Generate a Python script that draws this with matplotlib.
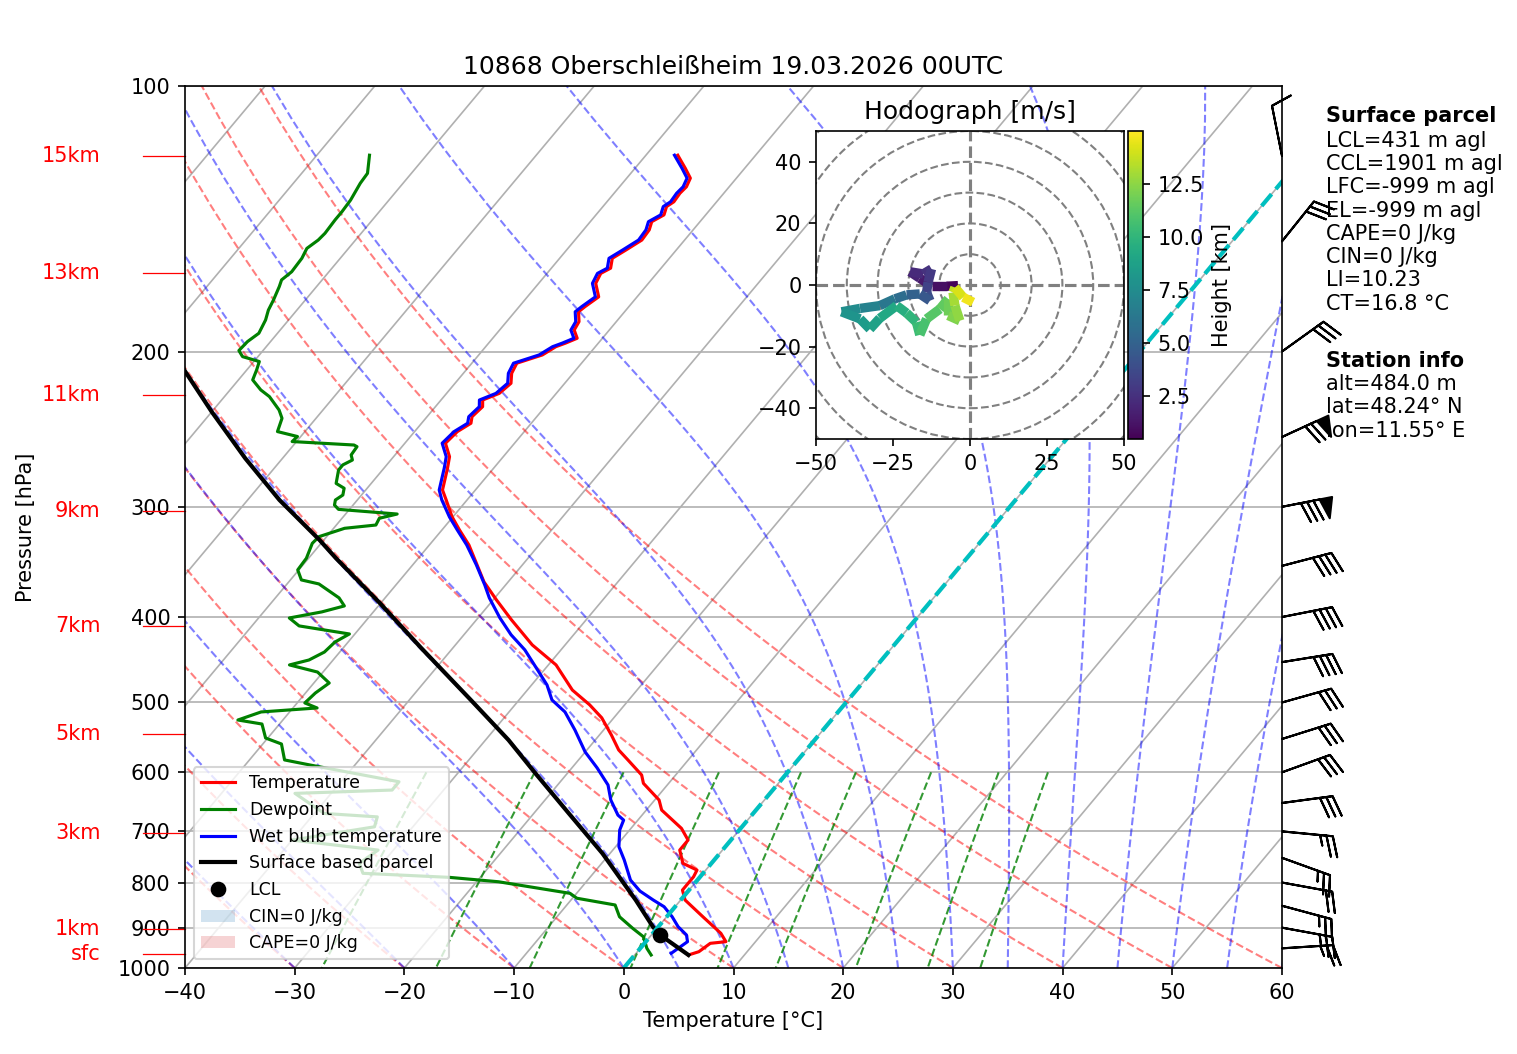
import numpy as np
import matplotlib
matplotlib.use('Agg')
import matplotlib.pyplot as plt
import matplotlib.transforms as transforms
from matplotlib.axes import Axes
from matplotlib.projections import register_projection
from matplotlib.collections import LineCollection
from matplotlib.patches import Circle, Patch
from matplotlib.ticker import MultipleLocator, ScalarFormatter, NullLocator

# Sounding (pressure in hPa, temperatures in degC)
p_temp = [966.6, 958.3, 937.6, 933.6, 913.4, 874.8, 837.4, 815.9, 788.1, 774.4,
          760.9, 735.0, 716.1, 694.5, 662.1, 645.0, 617.5, 604.2, 580.9, 566.0,
          544.4, 520.4, 503.0, 484.0, 453.3, 430.2, 403.0, 382.5, 365.0, 344.6,
          331.4, 318.7, 307.8, 294.7, 287.1, 271.3, 263.2, 254.1, 246.5, 241.2,
          237.1, 231.0, 227.0, 223.1, 217.3, 211.7, 206.2, 201.8, 197.5, 195.7,
          193.2, 189.1, 185.0, 180.3, 177.9, 173.4, 167.4, 163.1, 160.9, 156.8,
          153.5, 149.5, 145.6, 142.5, 140.0, 137.0, 135.3, 132.3, 130.1, 127.2,
          124.0, 119.8]
t_temp = [4.9, 5.6, 6.0, 7.3, 6.2, 3.3, 0.4, -0.6, -0.6, -0.8,
          -2.6, -3.9, -3.9, -5.4, -8.6, -9.6, -12.3, -13.1, -15.5, -17.1,
          -18.9, -21.1, -23.2, -25.9, -29.3, -33.0, -36.8, -39.7, -42.2, -44.7,
          -46.4, -48.4, -50.1, -51.9, -53.0, -54.2, -54.9, -56.3, -56.1, -55.5,
          -55.9, -55.7, -56.2, -55.2, -54.9, -55.6, -55.9, -54.2, -53.6, -53.0,
          -52.3, -53.2, -53.4, -54.2, -54.0, -53.5, -54.8, -55.1, -54.6, -55.2,
          -54.6, -53.9, -54.0, -54.4, -53.8, -54.2, -53.9, -54.0, -53.9, -54.2,
          -55.4, -57.1]

p_dew = [966.6, 949.9, 921.6, 901.8, 874.8, 848.3, 833.5, 822.9, 798.4, 789.3,
         781.0, 760.9, 735.0, 716.1, 691.7, 674.0, 668.0, 633.9, 628.4, 615.0,
         588.6, 580.9, 557.2, 548.6, 528.9, 523.4, 512.5, 507.2, 500.6, 487.8,
         475.2, 461.8, 453.3, 447.5, 438.3, 427.0, 418.1, 409.4, 401.0, 394.7,
         388.6, 380.5, 366.9, 363.1, 353.7, 343.1, 330.0, 324.3, 317.3, 314.6,
         309.1, 305.7, 302.0, 298.6, 294.7, 290.9, 285.8, 282.2, 272.5, 268.9,
         265.5, 262.0, 256.4, 255.3, 253.0, 249.7, 246.5, 238.1, 233.0, 225.0,
         221.1, 215.4, 209.9, 205.3, 202.7, 199.5, 194.9, 190.7, 184.2, 179.5,
         174.9, 168.8, 165.9, 162.4, 156.8, 152.8, 149.5, 146.9, 141.8, 138.8,
         134.7, 128.9, 125.6, 119.8]
t_dew = [1.5, 0.6, -0.6, -2.2, -4.3, -5.6, -9.6, -10.6, -18.0, -22.8,
         -31.0, -32.1, -31.4, -40.0, -33.5, -34.0, -39.1, -43.3, -34.7, -34.7,
         -44.1, -46.8, -48.3, -50.2, -51.6, -54.1, -52.6, -47.8, -49.3, -49.1,
         -48.6, -50.5, -53.6, -52.2, -51.4, -51.2, -50.5, -55.7, -57.2, -54.7,
         -53.1, -54.2, -57.1, -59.0, -60.1, -60.2, -60.8, -60.7, -59.0, -56.4,
         -56.6, -55.3, -61.0, -61.7, -62.0, -61.7, -62.1, -63.2, -64.0, -64.0,
         -63.5, -64.0, -64.1, -64.5, -70.4, -70.3, -72.5, -73.1, -74.0, -75.9,
         -77.2, -78.7, -79.1, -79.5, -81.4, -82.2, -82.1, -81.7, -82.1, -82.6,
         -82.9, -83.4, -83.7, -83.4, -83.5, -83.8, -83.4, -83.3, -83.4, -83.4,
         -83.5, -83.9, -84.0, -85.2]

p_wet = [962.4, 933.6, 917.5, 897.8, 874.8, 852.2, 837.4, 818.0, 794.9, 754.3,
         728.6, 697.6, 679.7, 670.9, 645.0, 620.2, 593.1, 569.0, 537.4, 512.5,
         496.7, 477.6, 459.3, 435.8, 419.0, 401.0, 380.5, 367.9, 349.1, 331.4,
         318.7, 308.1, 294.7, 287.1, 271.3, 263.2, 254.1, 246.5, 241.2, 237.1,
         231.0, 227.0, 223.1, 217.3, 211.7, 206.2, 201.8, 197.5, 195.7, 193.2,
         189.1, 185.0, 180.3, 177.9, 173.4, 167.4, 163.1, 160.9, 156.8, 153.5,
         149.5, 145.6, 142.5, 140.0, 137.0, 135.3, 132.3, 130.1, 127.2, 124.0,
         119.8]
t_wet = [3.2, 3.8, 3.2, 1.8, 0.5, -1.0, -2.5, -4.4, -6.1, -8.2,
         -9.7, -10.9, -11.3, -12.2, -14.0, -15.4, -17.7, -20.0, -22.6, -24.9,
         -27.0, -28.6, -30.6, -33.3, -35.7, -38.0, -40.5, -41.9, -44.2, -46.6,
         -48.6, -50.3, -52.3, -53.3, -54.5, -55.2, -56.6, -56.4, -55.8, -56.2,
         -56.0, -56.5, -55.5, -55.2, -55.9, -56.2, -54.5, -53.9, -53.3, -52.6,
         -53.5, -53.7, -54.5, -54.3, -53.8, -55.1, -55.4, -54.9, -55.5, -54.9,
         -54.2, -54.3, -54.7, -54.1, -54.5, -54.2, -54.3, -54.2, -54.5, -55.7,
         -57.4]

p_parcel = [966.6, 917.5, 897.8, 837.4, 741.3, 668.0, 601.7, 551.5, 496.7, 433.6,
            385.6, 343.1, 327.1, 294.7, 264.3, 234.1, 209.9]
t_parcel = [4.9, 0.8, -0.5, -4.1, -10.7, -16.8, -22.9, -27.9, -34.4, -42.9,
            -50.1, -57.5, -60.4, -67.1, -73.4, -80.0, -85.7]
lcl_p, lcl_t = 917.5, 0.8

# wind barbs (kt) at the right edge
barb_p = [120, 150, 200, 250, 300, 350, 400, 450, 500, 550, 600, 650, 700, 750,
          800, 850, 900, 950]
barb_u = [2.0, -18.8, -24.4, -63.6, -78.5, -38.7, -39.2, -39.5, -28.9, -28.6,
          -28.2, -29.7, -24.9, -23.5, -19.7, -24.1, -24.6, -25.0]
barb_v = [-10.0, -23.4, -17.5, -29.3, -15.4, -10.1, -7.7, -6.4, -8.1, -9.0,
          -10.2, -4.0, 2.4, 8.5, 3.6, 6.5, 4.5, -1.6]

# hodograph (m/s) and height (km)
hodo_u = [-3.9, -7.6, -12.5, -16.3, -19.5, -15.2, -12.5, -13.6, -14.1, -13.0,
          -16.3, -20.6, -24.4, -29.3, -35.7, -41.7, -35.7, -32.5, -29.3, -23.8,
          -20.6, -17.4, -16.3, -14.1, -9.8, -7.1, -7.1, -3.3, -4.9, -5.5,
          -4.9, -2.2, 1.0]
hodo_v = [-0.2, -0.4, -0.4, 2.2, 4.3, 3.6, 5.2, 0.9, -2.4, -5.1,
          -2.9, -3.2, -4.5, -6.7, -7.6, -8.7, -11.0, -14.3, -10.8, -6.7,
          -9.1, -12.1, -16.2, -11.0, -7.8, -4.5, -9.9, -11.6, -6.7, -2.4,
          -0.8, -4.0, -5.6]
hodo_z = [0.48, 0.9, 1.3, 1.7, 2.0, 2.4, 2.7, 3.1, 3.6, 4.1,
          4.7, 5.3, 5.9, 6.6, 7.2, 7.8, 8.2, 8.6, 9.0, 9.4,
          9.8, 10.2, 10.6, 11.0, 11.3, 11.6, 12.0, 12.4, 12.8, 13.3,
          13.8, 14.4, 15.0]

# height marks on the left
km_labels = ['sfc', '1km', '3km', '5km', '7km', '9km', '11km', '13km', '15km']
km_pres = [964.5, 903.6, 703.0, 543.2, 409.4, 303.0, 223.8, 163.1, 120.0]

# background lines
dry_t0 = [-40, -30, -20, -10, 0, 10, 20, 30, 40, 50, 60]
moist_t0 = [-40, -30, -20, -10, 0, 5, 10, 15, 20, 25, 30, 35, 40, 45, 50, 55, 60]
mix_ratios = [0.0004, 0.001, 0.002, 0.004, 0.007, 0.01, 0.016, 0.024, 0.032]
isotherms = [-100, -90, -80, -70, -60, -50, -40, -30, -20, -10, 0, 10, 20, 30, 40, 50, 60]

parcel_info = ['LCL=431 m agl', 'CCL=1901 m agl', 'LFC=-999 m agl', 'EL=-999 m agl',
               'CAPE=0 J/kg', 'CIN=0 J/kg', 'LI=10.23', 'CT=16.8 °C']
station_info = ['alt=484.0 m', 'lat=48.24° N', 'lon=11.55° E']


class SkewXAxes(Axes):
    name = 'skewx'
    rot = 33.94

    def _set_lim_and_transforms(self):
        super()._set_lim_and_transforms()
        skew = transforms.Affine2D().skew_deg(self.rot, 0)
        self.transDataToAxes = self.transScale + self.transLimits + skew
        self.transData = self.transDataToAxes + self.transAxes
        self._xaxis_transform = (transforms.blended_transform_factory(
            self.transScale + self.transLimits, transforms.IdentityTransform())
            + skew + self.transAxes)


register_projection(SkewXAxes)


def moist_lapse(t0, p):
    # RK4 integration of the saturated lapse rate (same constants as metpy)
    Rd, Lv, Cp, eps = 287.04749, 2.50084e6, 1004.666, 0.621957

    def dtdp(pp, t):
        es = 6.112 * np.exp(17.67 * (t - 273.15) / (t - 29.65))
        rs = eps * es / (pp - es)
        return (Rd * t + Lv * rs) / (Cp + Lv * Lv * rs * eps / (Rd * t * t)) / pp

    out = np.empty((len(t0), len(p)))
    t = np.asarray(t0, float) + 273.15
    out[:, 0] = t
    for i in range(1, len(p)):
        h = p[i] - p[i - 1]
        x = p[i - 1]
        k1 = dtdp(x, t)
        k2 = dtdp(x + h / 2, t + h * k1 / 2)
        k3 = dtdp(x + h / 2, t + h * k2 / 2)
        k4 = dtdp(x + h, t + h * k3)
        t = t + h * (k1 + 2 * k2 + 2 * k3 + k4) / 6
        out[:, i] = t
    return out - 273.15


W, H = 1517, 1054
fig = plt.figure(figsize=(W / 150, H / 150), dpi=150)
ax = fig.add_axes([185 / W, (H - 968) / H, 1097 / W, 882 / H], projection='skewx')
ax.set_yscale('log')
ax.set_xlim(-40, 60)
ax.set_ylim(1000, 100)

# isotherms and pressure grid
for t in isotherms:
    ax.axvline(t, color='#b0b0b0', lw=0.8, zorder=1)
ax.yaxis.grid(True)

p_ref = np.linspace(1000, 100, 100)
dry = (np.array(dry_t0)[:, None] + 273.15) * (p_ref / 1000.) ** 0.2857 - 273.15
ax.add_collection(LineCollection([np.column_stack([t, p_ref]) for t in dry],
                                 colors='r', linestyles='dashed', alpha=0.5, linewidths=1))
moist = moist_lapse(moist_t0, p_ref)
ax.add_collection(LineCollection([np.column_stack([t, p_ref]) for t in moist],
                                 colors='b', linestyles='dashed', alpha=0.5, linewidths=1))
p_mix = np.linspace(600, 1000, 50)
mix_lines = []
for w in mix_ratios:
    e = p_mix * w / (0.621957 + w)
    val = np.log(e / 6.112)
    mix_lines.append(np.column_stack([243.5 * val / (17.67 - val), p_mix]))
ax.add_collection(LineCollection(mix_lines, colors='g', linestyles='dashed', alpha=0.8, linewidths=1))

# profiles
l_t, = ax.plot(t_temp, p_temp, 'r', lw=1.5, label='Temperature')
l_d, = ax.plot(t_dew, p_dew, 'g', lw=1.5, label='Dewpoint')
l_w, = ax.plot(t_wet, p_wet, 'b', lw=1.5, label='Wet bulb temperature')
l_p, = ax.plot(t_parcel, p_parcel, 'k', lw=2, label='Surface based parcel')
ax.axvline(0, color='c', linestyle='--', linewidth=2)
l_lcl, = ax.plot(lcl_t, lcl_p, 'ko', ms=6.5, label='LCL')

ax.barbs(np.ones(len(barb_p)), barb_p, barb_u, barb_v,
         transform=ax.get_yaxis_transform(), clip_on=False, length=7)

# height marks
ytr = ax.get_yaxis_transform()
for lab, p in zip(km_labels, km_pres):
    ax.plot([-0.038, 0], [p, p], color='r', lw=0.6, transform=ytr, clip_on=False)
    ax.text(-0.077, p, lab, color='r', ha='right', va='center', transform=ytr)

ax.spines['top'].set_visible(False)
ax.axhline(100, color='k', lw=0.8, clip_on=False, zorder=3)

ax.xaxis.set_major_locator(MultipleLocator(10))
ax.yaxis.set_major_locator(MultipleLocator(100))
ax.yaxis.set_major_formatter(ScalarFormatter())
ax.yaxis.set_minor_locator(NullLocator())
ax.set_xlim(-40, 60)
ax.set_ylim(1000, 100)
ax.set_xlabel('Temperature [°C]')
ax.set_ylabel('Pressure [hPa]')
ax.yaxis.set_label_coords(-0.136, 0.5)
ax.set_title('10868 Oberschleißheim 19.03.2026 00UTC')

handles = [l_t, l_d, l_w, l_p, l_lcl,
           Patch(facecolor='tab:blue', alpha=0.2, label='CIN=0 J/kg'),
           Patch(facecolor='tab:red', alpha=0.2, label='CAPE=0 J/kg')]
ax.legend(handles=handles, loc='lower left', fontsize='small')

# hodograph inset
hax = fig.add_axes([816 / W, (H - 439) / H, 308 / W, 308 / H])
for r in range(10, 80, 10):
    hax.add_patch(Circle((0, 0), r, fill=False, color='grey', linestyle='dashed'))
hax.axhline(0, color='grey', linestyle='dashed')
hax.axvline(0, color='grey', linestyle='dashed')
pts = np.column_stack([hodo_u, hodo_v])
z = np.array(hodo_z)
lc = LineCollection(np.stack([pts[:-1], pts[1:]], axis=1), cmap='viridis',
                    norm=plt.Normalize(z.min(), z.max()), linewidths=4.5)
lc.set_array((z[:-1] + z[1:]) / 2)
hax.add_collection(lc)
hax.set_xlim(-50, 50)
hax.set_ylim(-50, 50)
hax.set_title('Hodograph [m/s]')

cax = fig.add_axes([1128 / W, (H - 439) / H, 15 / W, 308 / H])
cb = fig.colorbar(lc, cax=cax)
cb.set_ticks([2.5, 5.0, 7.5, 10.0, 12.5])
cb.set_label('Height [km]')

# info text on the right
tx = 1326 / W
fig.text(tx, 1 - 121.7 / H, 'Surface parcel', weight='bold')
for i, s in enumerate(parcel_info):
    fig.text(tx, 1 - (146.7 + 23.3 * i) / H, s)
fig.text(tx, 1 - 366.7 / H, 'Station info', weight='bold')
for i, s in enumerate(station_info):
    fig.text(tx, 1 - (390.0 + 23.3 * i) / H, s)

fig.savefig('out.png', dpi=150)
